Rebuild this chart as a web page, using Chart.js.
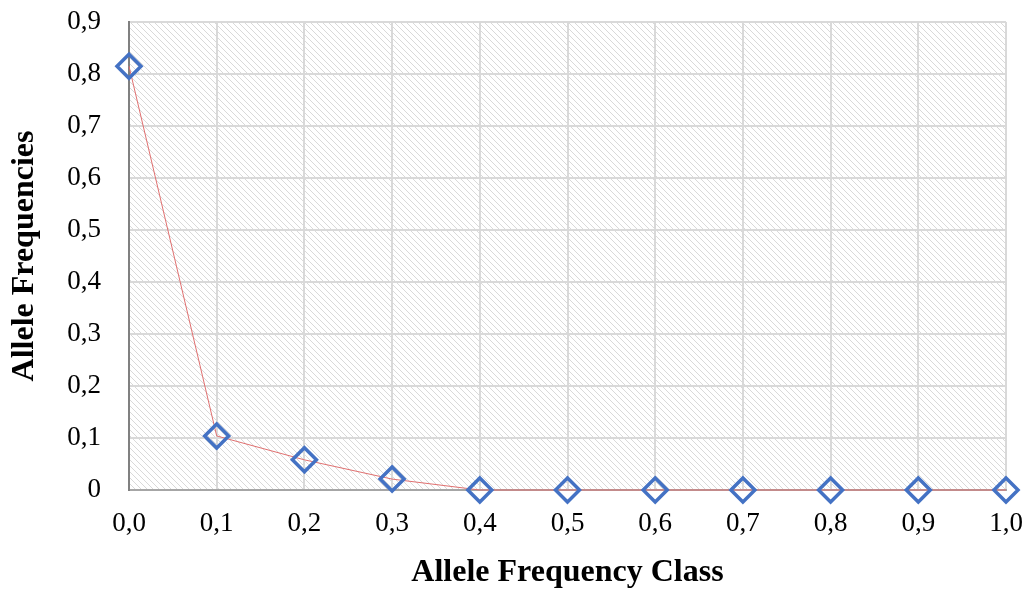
<!DOCTYPE html>
<html>
<head>
<meta charset="utf-8">
<script src="https://cdn.jsdelivr.net/npm/chart.js@4.4.0/dist/chart.umd.min.js"></script>
<style>
  html, body { margin: 0; padding: 0; background: #fff; }
  #wrap { width: 1028px; height: 592px; }
</style>
</head>
<body>
<div id="wrap"><canvas id="chartAlelos"></canvas></div>
<script>
const clases = [0, 0.1, 0.2, 0.3, 0.4, 0.5, 0.6, 0.7, 0.8, 0.9, 1.0];
const frecuencias = [0.815, 0.104, 0.058, 0.021, 0, 0, 0, 0, 0, 0, 0];

function patronRayado() {
    const c = document.createElement('canvas');
    c.width = 6; c.height = 6;
    const g = c.getContext('2d');
    g.fillStyle = '#ffffff';
    g.fillRect(0, 0, 6, 6);
    g.strokeStyle = '#d9d9d9';
    g.lineWidth = 1;
    g.beginPath();
    g.moveTo(-1, -1); g.lineTo(7, 7);
    g.stroke();
    return g.createPattern(c, 'repeat');
}

const fondoRayado = {
    id: 'fondoRayado',
    beforeDraw(chart) {
        const { ctx, chartArea } = chart;
        ctx.save();
        ctx.fillStyle = patronRayado();
        ctx.fillRect(chartArea.left, chartArea.top, chartArea.right - chartArea.left, chartArea.bottom - chartArea.top);
        ctx.restore();
    }
};

const coma = v => v.toFixed(1).replace('.', ',');

new Chart(document.getElementById('chartAlelos').getContext('2d'), {
    type: 'line',
    data: {
        datasets: [{
            data: clases.map((x, i) => ({ x: x, y: frecuencias[i] })),
            borderColor: '#e07070',
            borderWidth: 1,
            pointStyle: 'rectRot',
            pointRadius: 12,
            pointHoverRadius: 12,
            pointBorderColor: '#4472c4',
            pointBackgroundColor: 'rgba(0,0,0,0)',
            pointBorderWidth: 3.5,
            tension: 0,
            clip: false
        }]
    },
    options: {
        responsive: true,
        maintainAspectRatio: false,
        animation: false,
        layout: { padding: { top: 22, right: 22, left: 0, bottom: 0 } },
        scales: {
            x: {
                type: 'linear',
                min: 0,
                max: 1,
                afterFit: s => { s.height = 102; s.paddingLeft = 0; s.paddingRight = 0; },
                ticks: {
                    stepSize: 0.1,
                    color: '#000',
                    font: { family: 'Liberation Serif', size: 27 },
                    padding: 18,
                    callback: v => coma(v)
                },
                grid: { color: '#d9d9d9', lineWidth: 2, drawTicks: false },
                border: { color: '#a6a6a6', width: 2 },
                title: {
                    display: true,
                    text: 'Allele Frequency Class',
                    color: '#000',
                    font: { family: 'Liberation Serif', size: 32, weight: 'bold' },
                    padding: { top: 12, bottom: 0 }
                }
            },
            y: {
                min: 0,
                max: 0.9,
                afterFit: s => { s.width = 129; s.paddingTop = 0; s.paddingBottom = 0; },
                ticks: {
                    stepSize: 0.1,
                    color: '#000',
                    font: { family: 'Liberation Serif', size: 27 },
                    padding: 28,
                    callback: v => (v === 0 ? '0' : coma(v))
                },
                grid: { color: '#d9d9d9', lineWidth: 2, drawTicks: false },
                border: { color: '#808080', width: 2 },
                title: {
                    display: true,
                    text: 'Allele Frequencies',
                    color: '#000',
                    font: { family: 'Liberation Serif', size: 32, weight: 'bold' },
                    padding: { top: 6, bottom: 0 }
                }
            }
        },
        plugins: {
            legend: { display: false },
            tooltip: { enabled: false }
        }
    },
    plugins: [fondoRayado]
});
</script>
</body>
</html>
